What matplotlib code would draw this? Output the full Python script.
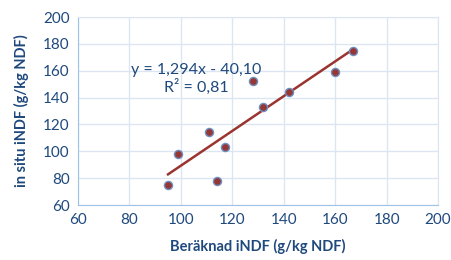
import matplotlib.pyplot as plt
import numpy as np

# beräknad iNDF vs in situ iNDF (g/kg NDF)
calc_indf = [95, 99, 111, 114, 117, 128, 132, 142, 160, 167]
insitu_indf = [75, 98, 114, 78, 103, 152, 133, 144, 159, 175]
slope, intercept = 1.294, -40.10
r2 = 0.81

txt = '#1F497D'
plt.rcParams['font.family'] = ['Lato', 'DejaVu Sans']

fig = plt.figure(figsize=(4.52, 2.6), dpi=100)
ax = fig.add_axes([0.1726, 0.2115, 0.7965, 0.7231])

ax.grid(True, color='#DCE6F2', linewidth=1.0)
ax.set_axisbelow(True)

x = np.array(calc_indf)
xl = np.array([x.min(), x.max()])
ax.plot(xl, slope * xl + intercept, color='#9B3431', linewidth=1.8, zorder=2)
ax.scatter(calc_indf, insitu_indf, s=34, color='#953735', edgecolors='#6F8FC0',
           linewidths=1.0, zorder=3)

ax.set_xlim(60, 200)
ax.set_ylim(60, 200)
ax.set_xticks(np.arange(60, 201, 20))
ax.set_yticks(np.arange(60, 201, 20))
ax.tick_params(length=0, labelsize=11, labelcolor=txt, pad=6)

for s in ['top', 'right']:
    ax.spines[s].set_color('#DCE6F2')
for s in ['left', 'bottom']:
    ax.spines[s].set_color('#9DC3E6')

ax.set_xlabel('Beräknad iNDF (g/kg NDF)', fontsize=10.5, fontweight='bold', color=txt, labelpad=8)
ax.set_ylabel('in situ iNDF (g/kg NDF)', fontsize=10.5, fontweight='bold', color=txt, labelpad=10)

r2_txt = f'{r2:.2f}'.replace('.', ',')
ax.text(106, 154, f'y = 1,294x - 40,10\nR² = {r2_txt}',
        fontsize=11.5, color=txt, ha='center', va='center', linespacing=1.1)

fig.savefig('out.png', dpi=100)
